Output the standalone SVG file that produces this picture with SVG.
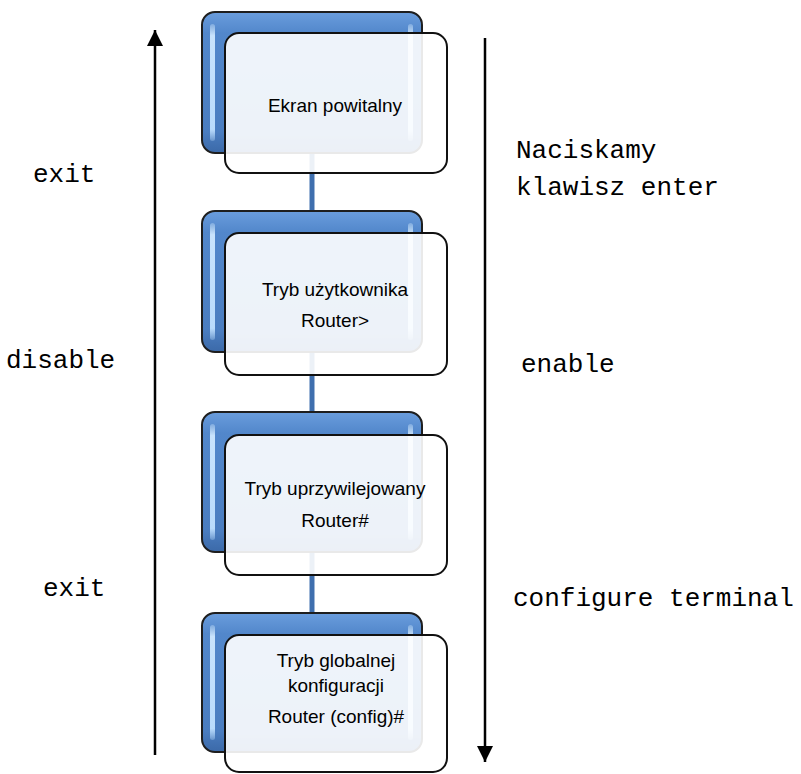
<svg xmlns="http://www.w3.org/2000/svg" width="801" height="774" viewBox="0 0 801 774">
<defs>
<linearGradient id="blueG" x1="0" y1="0" x2="0" y2="1">
<stop offset="0" stop-color="#6a9ddd"/>
<stop offset="0.15" stop-color="#5287cb"/>
<stop offset="0.85" stop-color="#4a7dc0"/>
<stop offset="1" stop-color="#3b69a8"/>
</linearGradient>
<linearGradient id="hiG" x1="0" y1="0" x2="0" y2="1">
<stop offset="0" stop-color="#d8eeff" stop-opacity="0.3"/>
<stop offset="0.1" stop-color="#cfe8ff" stop-opacity="0.95"/>
<stop offset="0.9" stop-color="#bfe0ff" stop-opacity="0.95"/>
<stop offset="1" stop-color="#bfe0ff" stop-opacity="0.3"/>
</linearGradient>
<marker id="ah" viewBox="0 0 16 16" refX="16" refY="8" markerWidth="16" markerHeight="16" markerUnits="userSpaceOnUse" orient="auto">
<path d="M0,0 L16,8 L0,16 Z" fill="#000"/>
</marker>
</defs>
<style>
.back{fill:url(#blueG);stroke:#1e1e1e;stroke-width:2}
.hi{fill:url(#hiG)}
.front{fill:#ffffff;fill-opacity:0.9;stroke:#111;stroke-width:2}
.conn{stroke:#3f6fae;stroke-width:5;fill:none}
.lbl{font-family:"Liberation Sans",Arial,sans-serif;font-size:19px;fill:#000;text-anchor:middle}
.mono{font-family:"Liberation Mono","Courier New",monospace;font-size:26px;fill:#000}
.arr{stroke:#000;stroke-width:2.5;fill:none}
</style>
<rect width="801" height="774" fill="#fff"/>
<g id="connectors">
<line class="conn" x1="312" y1="150" x2="312" y2="212"/>
<line class="conn" x1="312" y1="350" x2="312" y2="413"/>
<line class="conn" x1="312" y1="550" x2="312" y2="614"/>
</g>
<g id="node1">
<rect class="back" x="202" y="12" width="220" height="141" rx="13"/>
<rect class="hi" x="210" y="24" width="5" height="117" rx="2.5"/>
<rect class="hi" x="408" y="24" width="5" height="117" rx="2.5"/>
<rect class="front" x="225" y="33" width="222" height="140" rx="14"/>
<text class="lbl" x="335" y="112">Ekran powitalny</text>
</g>
<g id="node2">
<rect class="back" x="202" y="211" width="220" height="141" rx="13"/>
<rect class="hi" x="210" y="223" width="5" height="117" rx="2.5"/>
<rect class="hi" x="408" y="223" width="5" height="117" rx="2.5"/>
<rect class="front" x="225" y="233" width="222" height="142" rx="14"/>
<text class="lbl" x="335" y="296">Tryb użytkownika</text>
<text class="lbl" x="335" y="327">Router&gt;</text>
</g>
<g id="node3">
<rect class="back" x="202" y="412" width="220" height="140" rx="13"/>
<rect class="hi" x="210" y="424" width="5" height="116" rx="2.5"/>
<rect class="hi" x="408" y="424" width="5" height="116" rx="2.5"/>
<rect class="front" x="225" y="435" width="222" height="140" rx="14"/>
<text class="lbl" x="335" y="495">Tryb uprzywilejowany</text>
<text class="lbl" x="335" y="527">Router#</text>
</g>
<g id="node4">
<rect class="back" x="202" y="613" width="220" height="139" rx="13"/>
<rect class="hi" x="210" y="625" width="5" height="115" rx="2.5"/>
<rect class="hi" x="408" y="625" width="5" height="115" rx="2.5"/>
<rect class="front" x="225" y="635" width="222" height="137" rx="14"/>
<text class="lbl" x="336" y="667">Tryb globalnej</text>
<text class="lbl" x="336" y="692">konfiguracji</text>
<text class="lbl" x="336" y="723">Router (config)#</text>
</g>
<g id="arrows">
<line class="arr" x1="155" y1="755" x2="155" y2="30" marker-end="url(#ah)"/>
<line class="arr" x1="485" y1="38" x2="485" y2="762" marker-end="url(#ah)"/>
</g>
<g id="labels">
<text class="mono" x="33" y="182">exit</text>
<text class="mono" x="6" y="368">disable</text>
<text class="mono" x="43" y="596">exit</text>
<text class="mono" x="516" y="158">Naciskamy</text>
<text class="mono" x="516" y="195">klawisz enter</text>
<text class="mono" x="521" y="372">enable</text>
<text class="mono" x="513" y="606">configure terminal</text>
</g>
</svg>
